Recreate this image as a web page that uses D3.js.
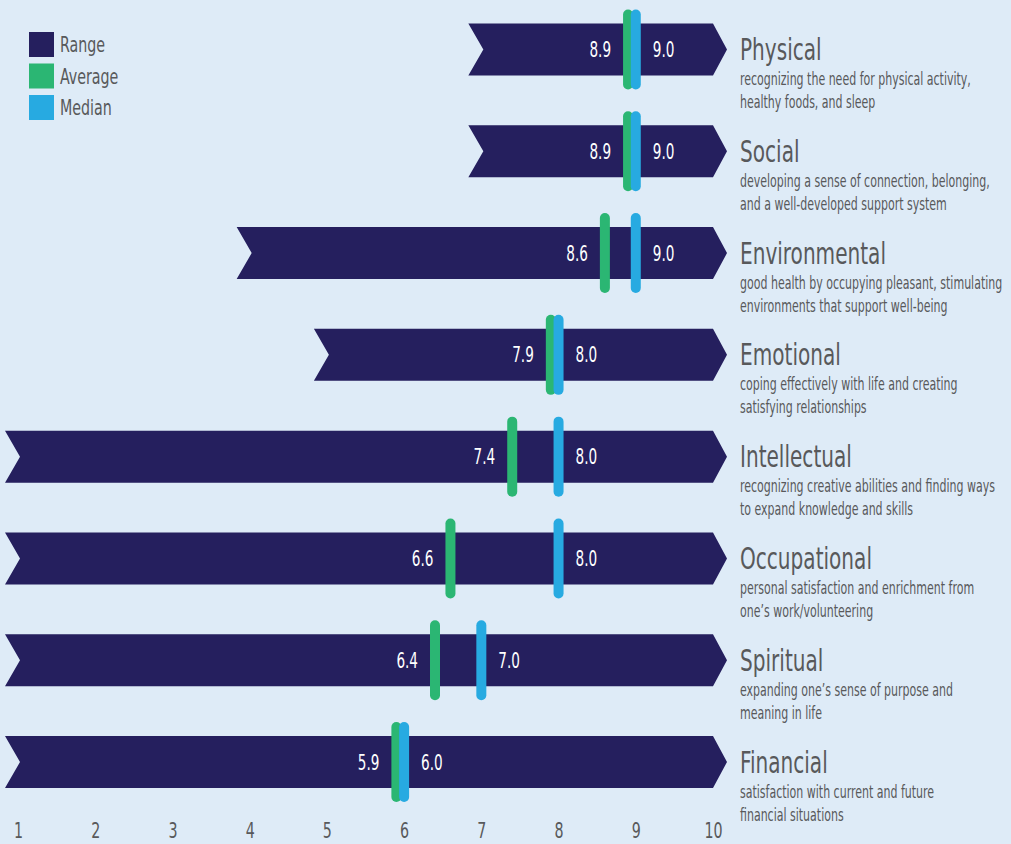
<!DOCTYPE html>
<html>
<head>
<meta charset="utf-8">
<script src="https://cdn.jsdelivr.net/npm/d3@7"></script>
<style>
  body { margin: 0; background: #deebf7; }
  svg text { font-family: "Liberation Sans Narrow", "DejaVu Sans Condensed", sans-serif; }
</style>
</head>
<body>
<div class="wellness-chart"></div>
<script>
const categories = ['Physical', 'Social', 'Environmental', 'Emotional', 'Intellectual', 'Occupational', 'Spiritual', 'Financial'];
const descriptions = [
  ['recognizing the need for physical activity,', 'healthy foods, and sleep'],
  ['developing a sense of connection, belonging,', 'and a well-developed support system'],
  ['good health by occupying pleasant, stimulating', 'environments that support well-being'],
  ['coping effectively with life and creating', 'satisfying relationships'],
  ['recognizing creative abilities and finding ways', 'to expand knowledge and skills'],
  ['personal satisfaction and enrichment from', 'one\u2019s work/volunteering'],
  ['expanding one\u2019s sense of purpose and', 'meaning in life'],
  ['satisfaction with current and future', 'financial situations'],
];
const rangeMin = [7, 7, 4, 5, 1, 1, 1, 1];
const rangeMax = [10, 10, 10, 10, 10, 10, 10, 10];
const averages = [8.9, 8.9, 8.6, 7.9, 7.4, 6.6, 6.4, 5.9];
const medians = [9.0, 9.0, 9.0, 8.0, 8.0, 8.0, 7.0, 6.0];
const ticks = [1, 2, 3, 4, 5, 6, 7, 8, 9, 10];
const legendItems = ['Range', 'Average', 'Median'];

const colors = { range: '#251f5e', average: '#2bb673', median: '#27aae1', text: '#58595b' };
const legendColors = [colors.range, colors.average, colors.median];

// the original uses a condensed face; squeeze the installed one horizontally
const squeeze = 0.72;

const width = 1011;
const height = 844;

const svg = d3.select('.wellness-chart').append('svg')
  .attr('width', width)
  .attr('height', height);

const x = d3.scaleLinear().domain([1, 10]).range([18, 713]);
const y = d3.scalePoint().domain(categories).range([49.5, 762]);

const barH = 52;
const notch = 15;
const tip = 14;

const rows = categories.map((name, i) => ({
  name,
  lines: descriptions[i],
  min: rangeMin[i],
  max: rangeMax[i],
  avg: averages[i],
  med: medians[i],
}));

const placeText = (sel, tx, ty) => sel.attr('transform', `translate(${tx},${ty}) scale(${squeeze},1)`);

// range arrows
const row = svg.selectAll('.row')
  .data(rows)
  .enter().append('g')
  .attr('class', 'row')
  .attr('transform', (d) => `translate(0,${y(d.name)})`);

row.append('path')
  .attr('d', (d) => {
    const x0 = x(d.min) - 13;
    const x1 = x(d.max);
    const h = barH / 2;
    return `M${x0},${-h}L${x1},${-h}L${x1 + tip},0L${x1},${h}L${x0},${h}L${x0 + notch},0Z`;
  })
  .style('fill', colors.range);

// average + median markers
row.append('line')
  .attr('x1', (d) => x(d.avg)).attr('x2', (d) => x(d.avg))
  .attr('y1', -35).attr('y2', 35)
  .style('stroke', colors.average)
  .style('stroke-width', 10)
  .style('stroke-linecap', 'round');

row.append('line')
  .attr('x1', (d) => x(d.med)).attr('x2', (d) => x(d.med))
  .attr('y1', -35).attr('y2', 35)
  .style('stroke', colors.median)
  .style('stroke-width', 10)
  .style('stroke-linecap', 'round');

row.append('text')
  .each(function (d) { placeText(d3.select(this), x(d.avg) - 17, 7.5); })
  .style('text-anchor', 'end')
  .style('fill', '#fff')
  .style('font-size', '21px')
  .text((d) => d.avg.toFixed(1));

row.append('text')
  .each(function (d) { placeText(d3.select(this), x(d.med) + 17, 7.5); })
  .style('fill', '#fff')
  .style('font-size', '21px')
  .text((d) => d.med.toFixed(1));

// titles and descriptions
row.append('text')
  .call((s) => placeText(s, 740, 10.5))
  .style('fill', colors.text)
  .style('font-size', '31px')
  .text((d) => d.name);

row.each(function (d) {
  d.lines.forEach((line, j) => {
    d3.select(this).append('text')
      .call((s) => placeText(s, 740, 35.5 + j * 23))
      .style('fill', colors.text)
      .style('font-size', '17px')
      .text(line);
  });
});

// axis
const xAxis = d3.axisBottom(x).tickValues(ticks).tickSize(0).tickPadding(0);
const axisG = svg.append('g')
  .attr('class', 'x-axis')
  .call(xAxis);
axisG.select('.domain').remove();
axisG.attr('font-family', null);
axisG.selectAll('.tick text')
  .attr('y', null).attr('dy', null)
  .attr('transform', `translate(0,838) scale(${squeeze},1)`)
  .style('font-size', '22px')
  .style('fill', colors.text);

// legend
const legend = svg.selectAll('.legend')
  .data(legendItems)
  .enter().append('g')
  .attr('class', 'legend')
  .attr('transform', (d, i) => `translate(29,${32 + i * 31.5})`);

legend.append('rect')
  .attr('width', 25)
  .attr('height', 25)
  .style('fill', (d, i) => legendColors[i]);

legend.append('text')
  .call((s) => placeText(s, 31, 20))
  .style('fill', colors.text)
  .style('font-size', '22px')
  .text((d) => d);
</script>
</body>
</html>
